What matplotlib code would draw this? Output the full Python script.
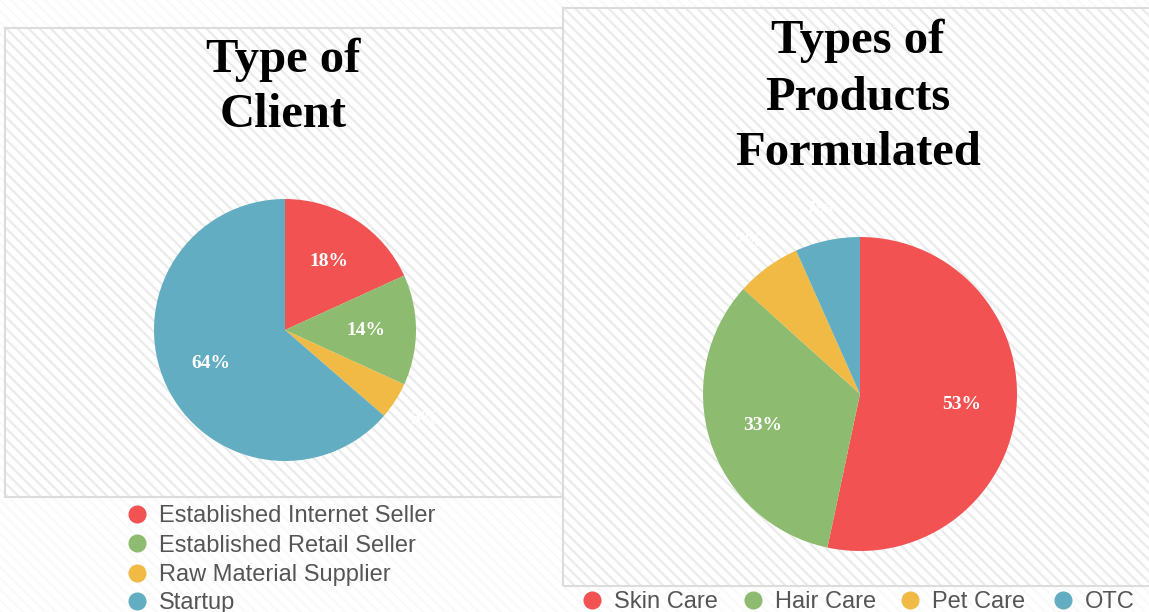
import numpy as np
import matplotlib
matplotlib.use("Agg")
import matplotlib.pyplot as plt
from matplotlib.patches import Rectangle
from matplotlib.lines import Line2D

# --- data ---
client_types = ["Established Internet Seller", "Established Retail Seller",
                "Raw Material Supplier", "Startup"]
client_counts = [4, 3, 1, 14]

product_types = ["Skin Care", "Hair Care", "Pet Care", "OTC"]
product_counts = [8, 5, 1, 1]

colors = ["#f25252", "#8dbb6f", "#f0ba45", "#62adc1"]

W, H = 1149, 612
plt.rcParams["hatch.linewidth"] = 1.6

fig = plt.figure(figsize=(W / 100, H / 100), dpi=100)
fig.patch.set_facecolor("white")


def fx(x):
    return x / W


def fy(y):
    return 1 - y / H


def panel(x0, y0, x1, y1, hatch_col, border=True):
    xy, w, h = (fx(x0), fy(y1)), (x1 - x0) / W, (y1 - y0) / H
    fig.patches.append(Rectangle(xy, w, h, transform=fig.transFigure, facecolor="white",
                                 edgecolor=hatch_col, hatch="\\\\\\", linewidth=0, zorder=-3))
    if border:
        fig.patches.append(Rectangle(xy, w, h, transform=fig.transFigure, fill=False,
                                     edgecolor="#dcdcdc", linewidth=1.5, zorder=-2))


# background panels
panel(0, 0, W, H, "#f9f9f9", border=False)
panel(5, 28, 563, 497, "#ebebeb")
panel(563, 8, W + 5, 586, "#ebebeb")


def draw_pie(cx, cy, r, values, inner, outer):
    ax = fig.add_axes([fx(cx - r), fy(cy + r), 2 * r / W, 2 * r / H], zorder=2)
    wedges, _ = ax.pie(values, colors=colors, startangle=90, counterclock=False,
                       wedgeprops=dict(linewidth=0))
    ax.set_xlim(-1, 1)
    ax.set_ylim(-1, 1)
    ax.set_aspect("equal")
    ax.axis("off")
    total = sum(values)
    for w, v in zip(wedges, values):
        pct = v / total * 100
        ang = np.deg2rad((w.theta1 + w.theta2) / 2)
        d = inner if pct > 10 else outer
        ax.text(d * np.cos(ang), d * np.sin(ang), f"{pct:.0f}%", color="white",
                ha="center", va="center", fontsize=14, fontweight="bold",
                family="Liberation Serif")
    return wedges


def draw_title(lines, cx, baselines):
    for line, b in zip(lines, baselines):
        fig.text(fx(cx), fy(b), line, ha="center", va="baseline", fontsize=35,
                 fontweight="bold", family="Liberation Serif")


def draw_legend(labels, xs, ys):
    for lab, c, x, y in zip(labels, colors, xs, ys):
        fig.add_artist(Line2D([fx(x)], [fy(y)], marker="o", markersize=12, linestyle="",
                              markerfacecolor=c, markeredgecolor=c, transform=fig.transFigure))
        fig.text(fx(x + 22), fy(y), lab, ha="left", va="center_baseline", fontsize=17,
                 color="#555555", family="Liberation Sans")


draw_pie(285, 330, 131, client_counts, 0.62, 1.27)
draw_pie(860, 394, 157, product_counts, 0.65, 1.2)

draw_title(["Type of", "Client"], 283, [72, 127])
draw_title(["Types of", "Products", "Formulated"], 858, [53, 110, 165])

draw_legend(client_types, [137] * 4, [514, 543, 573, 601])
draw_legend(product_types, [592, 753, 910, 1063], [600] * 4)

fig.savefig("out.png", dpi=100, facecolor="white")
